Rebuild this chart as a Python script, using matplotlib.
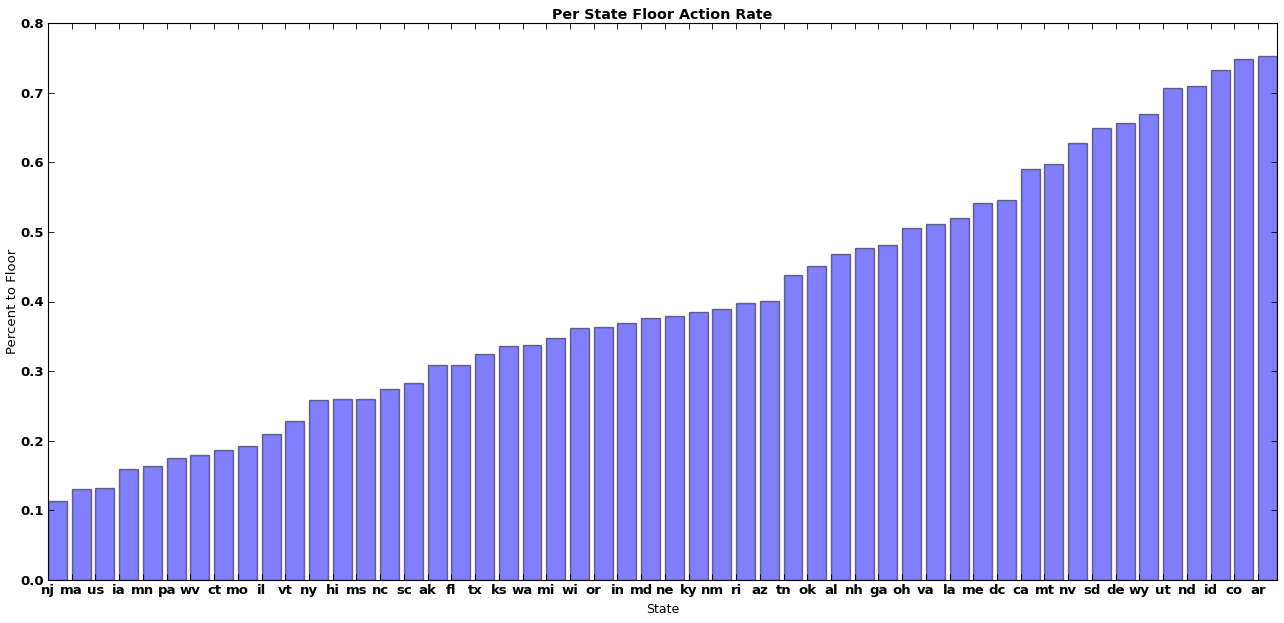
import numpy as np
import matplotlib
matplotlib.use("Agg")
from matplotlib import pyplot as plt

states = ["nj", "ma", "us", "ia", "mn", "pa", "wv", "ct", "mo", "il", "vt", "ny", "hi",
          "ms", "nc", "sc", "ak", "fl", "tx", "ks", "wa", "mi", "wi", "or", "in", "md",
          "ne", "ky", "nm", "ri", "az", "tn", "ok", "al", "nh", "ga", "oh", "va", "la",
          "me", "dc", "ca", "mt", "nv", "sd", "de", "wy", "ut", "nd", "id", "co", "ar"]
rates = [0.113, 0.131, 0.132, 0.159, 0.164, 0.175, 0.180, 0.187, 0.192, 0.210, 0.228,
         0.259, 0.260, 0.260, 0.274, 0.283, 0.309, 0.309, 0.325, 0.336, 0.338, 0.348,
         0.362, 0.363, 0.369, 0.376, 0.379, 0.385, 0.389, 0.398, 0.401, 0.438, 0.451,
         0.468, 0.477, 0.481, 0.506, 0.511, 0.520, 0.541, 0.546, 0.590, 0.597, 0.628,
         0.649, 0.656, 0.669, 0.707, 0.710, 0.733, 0.748, 0.753]

fig = plt.figure(figsize=(12.84, 6.23), dpi=100)
ax = fig.add_axes([48 / 1284, 1 - 580 / 623, 1229 / 1284, 557 / 623])

x = np.arange(len(states))
ax.bar(x, rates, width=0.8, align="edge", color="blue", edgecolor="black",
       alpha=0.5, linewidth=1)

ax.set_xlim(0, len(states) - 0.2)
ax.set_ylim(0, 0.8)
ax.set_xticks(x)
ax.set_xticklabels(states, fontsize=9.5, fontweight="bold")
ax.set_yticks(np.arange(0, 0.81, 0.1))
ax.set_yticklabels(["%.1f" % v for v in np.arange(0, 0.81, 0.1)], fontsize=9.5, fontweight="bold")
ax.tick_params(direction="in", top=True, right=True, length=4, width=0.6, pad=3)

ax.set_xlabel("State", fontsize=9)
ax.set_ylabel("Percent to Floor", fontsize=9.5, labelpad=1)
ax.set_title("Per State Floor Action Rate", fontsize=10.3, fontweight="bold", pad=3)

plt.savefig("out.png", dpi=100)
